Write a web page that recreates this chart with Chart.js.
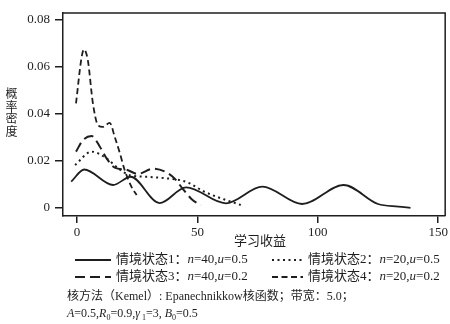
<!DOCTYPE html>
<html>
<head>
<meta charset="utf-8">
<script src="https://cdn.jsdelivr.net/npm/chart.js@4.4.1/dist/chart.umd.min.js"></script>
<style>
  html, body { margin: 0; padding: 0; background: #fff; }
  #wrap { position: relative; width: 450px; height: 324px; }
  #ytitle {
    position: absolute; left: 5px; top: 87px; width: 13px;
    font: 12px "Noto Sans CJK SC", sans-serif; line-height: 12.7px;
    color: #1e1e1e; text-align: center;
  }
</style>
</head>
<body>
<div id="wrap">
  <canvas id="chart" width="450" height="324"></canvas>
  <div id="ytitle"></div>
</div>
<script>
// tick values
const xTicks = [0, 50, 100, 150];
const yTicks = [0, 0.02, 0.04, 0.06, 0.08];

// 情境状态1: n=40,u=0.5 (solid)
const s1x = [-2.4, 3.0, 15.0, 22.3, 34.3, 45.3, 61.8, 77.0, 93.5, 110.7, 125.0, 133.5, 138.5];
const s1y = [0.0112, 0.0164, 0.0098, 0.0133, 0.0021, 0.0088, 0.0020, 0.0091, 0.0017, 0.0098, 0.0017, 0.0006, 0.0001];

// 情境状态2: n=20,u=0.5 (dotted)
const s2x = [-0.8, 6.1, 12.3, 17.1, 21.9, 28.8, 38.4, 43.5, 47.0, 52.0, 56.2, 61.0, 68.0];
const s2y = [0.0183, 0.0240, 0.0211, 0.0169, 0.0140, 0.0133, 0.0125, 0.0117, 0.0104, 0.0074, 0.0055, 0.0037, 0.0013];

// 情境状态3: n=40,u=0.2 (long dash)
const s3x = [-0.4, 2.6, 6.1, 9.5, 12.3, 15.7, 20.5, 25.3, 31.5, 37.1, 40.5, 44.2, 48.0, 51.5];
const s3y = [0.0240, 0.0290, 0.0306, 0.0261, 0.0211, 0.0172, 0.0163, 0.0145, 0.0167, 0.0152, 0.0126, 0.0078, 0.0034, 0.0013];

// 情境状态4: n=20,u=0.2 (short dash)
const s4x = [-0.4, 1.9, 2.9, 4.5, 6.6, 8.7, 10.7, 13.6, 15.7, 17.8, 19.8, 22.7, 24.8];
const s4y = [0.0445, 0.0640, 0.0675, 0.0630, 0.0447, 0.0353, 0.0345, 0.0362, 0.0302, 0.0234, 0.0162, 0.0089, 0.0055];

const legendLabels = [
  '情境状态1：n=40,u=0.5',
  '情境状态2：n=20,u=0.5',
  '情境状态3：n=40,u=0.2',
  '情境状态4：n=20,u=0.2'
];
const xTitle = '学习收益';
const yTitle = ['概', '率', '密', '度'];

const INK = '#1e1e1e';
const SERIF = '"Liberation Serif", "Noto Sans CJK SC", serif';

// y title as stacked characters
document.getElementById('ytitle').innerHTML = yTitle.join('<br>');

function pts(xs, ys) {
  return xs.map((x, i) => ({ x: x, y: ys[i] }));
}

function lineSet(label, xs, ys, dash, width) {
  return {
    label: label,
    data: pts(xs, ys),
    borderColor: INK,
    borderWidth: width,
    borderDash: dash,
    borderCapStyle: 'butt',
    pointRadius: 0,
    fill: false,
    cubicInterpolationMode: 'monotone'
  };
}

// draw a list of text runs, left to right
function drawRuns(ctx, x, y, runs, size) {
  ctx.textBaseline = 'middle';
  ctx.textAlign = 'left';
  runs.forEach(r => {
    const sz = r.sub ? Math.round(size * 0.7) : size;
    ctx.font = (r.it ? 'italic ' : '') + sz + 'px ' + SERIF;
    ctx.fillText(r.t, x, y + (r.sub ? 4 : 0));
    x += ctx.measureText(r.t).width;
  });
  return x;
}

function labelRuns(str) {
  return str.split(/([nu])(?==)/).filter(s => s.length).map(s => ({ t: s, it: (s === 'n' || s === 'u') }));
}

const noteLine1 = [{ t: '核方法（Kemel）: Epanechnikkow核函数；带宽：5.0；' }];
const noteLine2 = [
  { t: 'A', it: true }, { t: '=0.5,' },
  { t: 'R', it: true }, { t: '0', sub: true }, { t: '=0.9,' },
  { t: 'γ', it: true }, { t: ' 1', sub: true }, { t: '=3, ' },
  { t: 'B', it: true }, { t: '0', sub: true }, { t: '=0.5' }
];

const decorPlugin = {
  id: 'decor',
  afterDraw(chart) {
    const ctx = chart.ctx;
    const a = chart.chartArea;
    ctx.save();
    // box
    ctx.strokeStyle = INK;
    ctx.lineWidth = 1.5;
    ctx.setLineDash([]);
    ctx.beginPath();
    ctx.moveTo(a.left, a.top);
    ctx.lineTo(a.right, a.top);
    ctx.lineTo(a.right, a.bottom);
    ctx.stroke();

    ctx.fillStyle = INK;
    // x title
    ctx.font = '13px ' + SERIF;
    ctx.textAlign = 'center';
    ctx.textBaseline = 'middle';
    ctx.fillText(xTitle, 260, 242);

    // legend
    const cols = [75, 272];
    const rows = [260, 277];
    const lens = [36, 31];
    chart.data.datasets.forEach((ds, i) => {
      const cx = cols[i % 2];
      const cy = rows[Math.floor(i / 2)];
      ctx.strokeStyle = INK;
      ctx.lineWidth = ds.borderWidth;
      ctx.setLineDash(ds.borderDash);
      ctx.beginPath();
      ctx.moveTo(cx, cy);
      ctx.lineTo(cx + lens[i % 2], cy);
      ctx.stroke();
      ctx.setLineDash([]);
      drawRuns(ctx, cx + lens[i % 2] + 5, cy, labelRuns(legendLabels[i]), 13);
    });

    // footnote
    drawRuns(ctx, 67, 297, noteLine1, 12);
    drawRuns(ctx, 67, 314, noteLine2, 12);
    ctx.restore();
  }
};

new Chart(document.getElementById('chart'), {
  type: 'line',
  data: {
    datasets: [
      lineSet(legendLabels[0], s1x, s1y, [], 1.8),
      lineSet(legendLabels[1], s2x, s2y, [2, 3.5], 2),
      lineSet(legendLabels[2], s3x, s3y, [10, 5], 2),
      lineSet(legendLabels[3], s4x, s4y, [6, 3.5], 1.8)
    ]
  },
  options: {
    responsive: false,
    animation: false,
    layout: { padding: { top: 13, right: 3, left: 0, bottom: 0 } },
    plugins: { legend: { display: false }, tooltip: { enabled: false } },
    scales: {
      x: {
        type: 'linear',
        min: -5.8,
        max: 152.9,
        afterBuildTicks: s => { s.ticks = xTicks.map(v => ({ value: v })); },
        afterFit: s => { s.height = 108; },
        grid: { drawOnChartArea: false, drawTicks: true, tickLength: 7, color: INK, lineWidth: 1.5 },
        border: { display: true, color: INK, width: 1.5 },
        ticks: { font: { family: SERIF, size: 13 }, color: INK, padding: 2, maxRotation: 0, autoSkip: false }
      },
      y: {
        type: 'linear',
        min: -0.0034,
        max: 0.083,
        afterBuildTicks: s => { s.ticks = yTicks.map(v => ({ value: v })); },
        afterFit: s => { s.width = 63; },
        grid: { drawOnChartArea: false, drawTicks: true, tickLength: 8, color: INK, lineWidth: 1.5 },
        border: { display: true, color: INK, width: 1.5 },
        ticks: {
          font: { family: SERIF, size: 13 }, color: INK, padding: 5, autoSkip: false,
          callback: v => v === 0 ? '0' : v.toFixed(2)
        }
      }
    }
  },
  plugins: [decorPlugin]
});
</script>
</body>
</html>
